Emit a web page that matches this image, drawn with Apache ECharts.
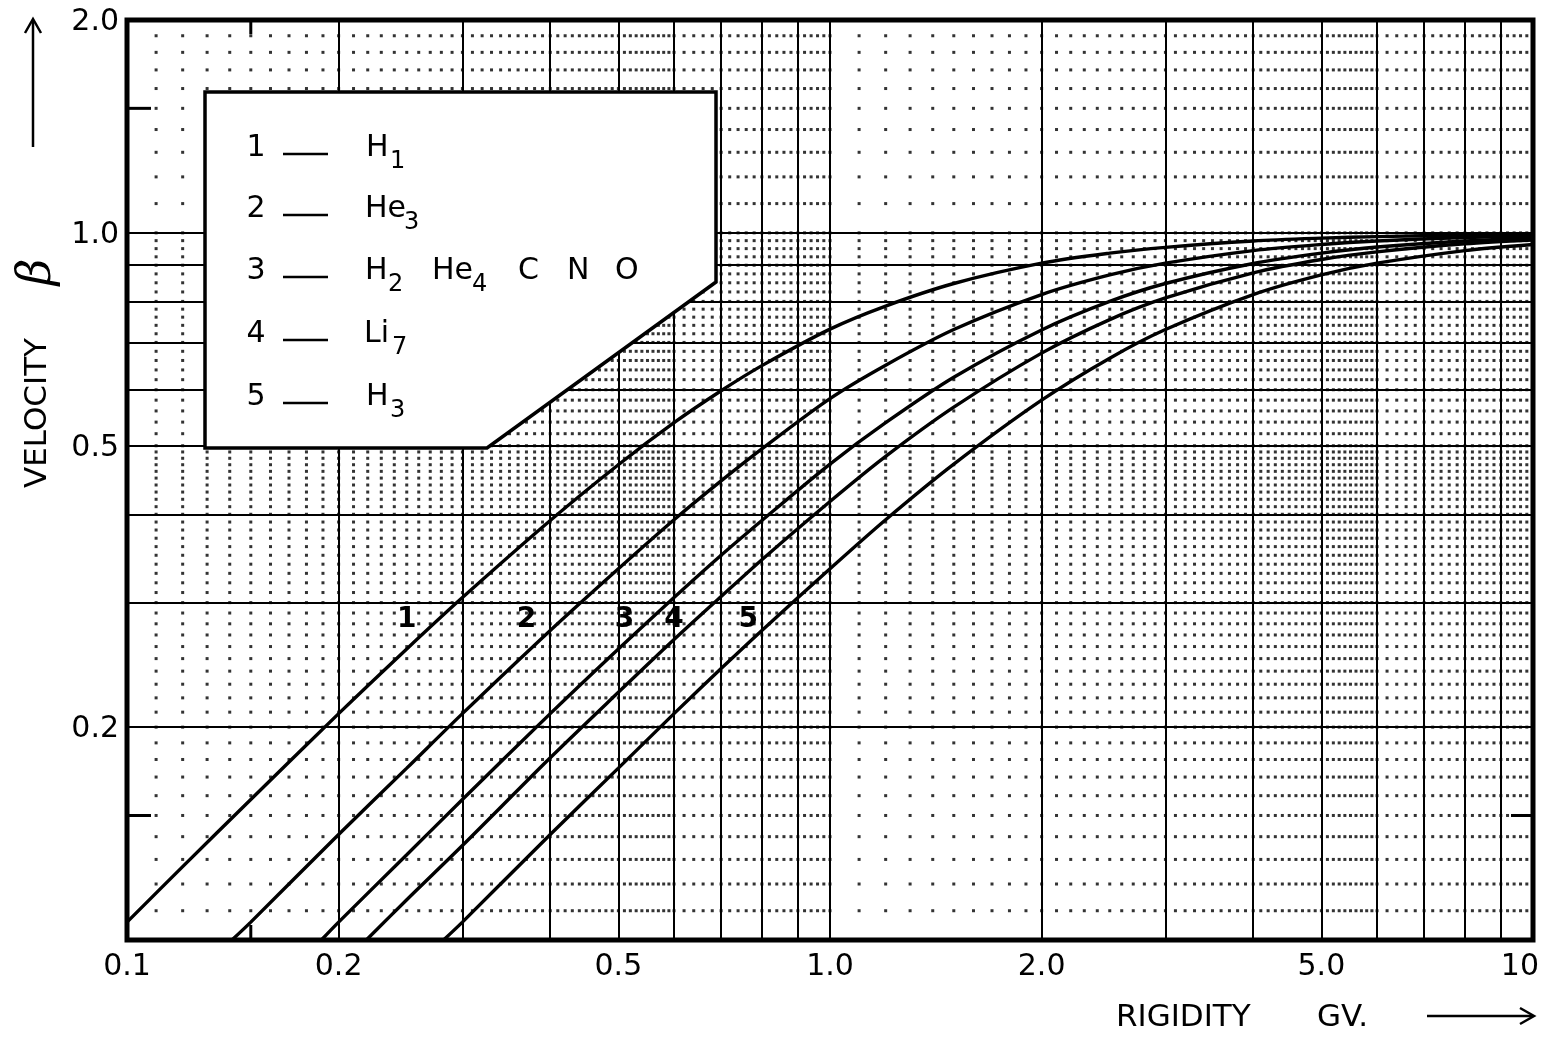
<!DOCTYPE html>
<html>
<head>
<meta charset="utf-8">
<script src="https://cdn.jsdelivr.net/npm/echarts@6/dist/echarts.min.js"></script>
<style>html,body{margin:0;padding:0;background:#fff}#c{width:1548px;height:1037px}</style>
</head>
<body>
<div id="c"></div>
<script>
// ---------- data ----------
// Curve 1: H1
const h1Rigidity = [0.1,0.12,0.15,0.2,0.25,0.3,0.4,0.5,0.6,0.7,0.8,1.0,1.2,1.5,2.0,2.5,3.0,4.0,5.0,6.0,8.0,10];
const h1Beta     = [0.106,0.127,0.158,0.209,0.258,0.305,0.392,0.470,0.539,0.598,0.649,0.731,0.788,0.848,0.906,0.936,0.954,0.974,0.983,0.988,0.993,0.996];
// Curve 2: He3
const he3Rigidity = [0.141,0.15,0.2,0.25,0.3,0.4,0.5,0.6,0.7,0.8,1.0,1.2,1.5,2.0,2.5,3.0,4.0,5.0,6.0,8.0,10];
const he3Beta     = [0.100,0.106,0.141,0.175,0.209,0.274,0.335,0.393,0.446,0.495,0.583,0.650,0.730,0.818,0.872,0.906,0.944,0.963,0.974,0.985,0.990];
// Curve 3: H2 He4 C N O
const h2Rigidity = [0.189,0.2,0.25,0.3,0.4,0.5,0.6,0.7,0.8,1.0,1.2,1.5,2.0,2.5,3.0,4.0,5.0,6.0,8.0,10];
const h2Beta     = [0.100,0.106,0.132,0.158,0.209,0.258,0.305,0.350,0.392,0.471,0.539,0.625,0.729,0.800,0.848,0.905,0.936,0.955,0.974,0.983];
// Curve 4: Li7
const li7Rigidity = [0.219,0.25,0.3,0.4,0.5,0.6,0.7,0.8,1.0,1.2,1.5,2.0,2.5,3.0,4.0,5.0,6.0,8.0,10];
const li7Beta     = [0.100,0.114,0.136,0.181,0.224,0.266,0.306,0.345,0.417,0.483,0.567,0.676,0.754,0.809,0.878,0.917,0.940,0.965,0.977];
// Curve 5: H3
const h3Rigidity = [0.282,0.3,0.4,0.5,0.6,0.7,0.8,1.0,1.2,1.5,2.0,2.5,3.0,4.0,5.0,6.0,8.0,10];
const h3Beta     = [0.100,0.106,0.141,0.175,0.209,0.242,0.274,0.335,0.393,0.471,0.580,0.665,0.730,0.818,0.872,0.906,0.944,0.963];

// curve number labels on the plot
const curveNumbers = ['1','2','3','4','5'];
const curveNumberRigidity = [0.25,0.37,0.51,0.60,0.765];
const curveNumberBeta = [0.284,0.284,0.284,0.284,0.284];

// tick labels
const xTickValues = [0.1,0.2,0.5,1,2,5,10];
const xTickLabels = ['0.1','0.2','0.5','1.0','2.0','5.0','10'];
const yTickValues = [2.0,1.0,0.5,0.2];
const yTickLabels = ['2.0','1.0','0.5','0.2'];
const xMinorTickValues = [0.15];
const yMinorTickValues = [0.15,1.5];

// graph-paper rulings
const gridSolidX = [0.2,0.3,0.4,0.5,0.6,0.7,0.8,0.9,1,2,3,4,5,6,7,8,9];
const gridSolidY = [0.2,0.3,0.4,0.5,0.6,0.7,0.8,0.9,1.0];
const gridDotXSteps = [[0.1,0.6,0.01],[0.6,1,0.02],[1,6,0.1],[6,10,0.2]];
const gridDotYSteps = [[0.1,0.5,0.01],[0.5,0.8,0.02],[0.8,1,0.025],[1,2,0.1]];

// legend
const legendNumbers = ['1','2','3','4','5'];
const legendEntries = [
  [['H','1']],
  [['He','3']],
  [['H','2'],['He','4'],['C',''],['N',''],['O','']],
  [['Li','7']],
  [['H','3']]
];

// ---------- build ----------
function expand(ranges){
  const out=[];
  ranges.forEach(([a,b,s])=>{
    const n=Math.round((b-a)/s);
    for(let i=0;i<=n;i++){const v=+(a+i*s).toFixed(4); if(!out.includes(v)) out.push(v);}
  });
  return out;
}
const dotX = expand(gridDotXSteps).filter(v=>v>0.1&&v<10);
const dotY = expand(gridDotYSteps).filter(v=>v>0.1&&v<2);
const dots=[]; dotX.forEach(x=>dotY.forEach(y=>dots.push([x,y])));
const zip=(a,b)=>a.map((v,i)=>[v,b[i]]);

const FONT='"DejaVu Sans", "Liberation Sans", sans-serif';
const chart = echarts.init(document.getElementById('c'));
const curveSeries = (name, xs, ys) => ({
  type:'line', name, data: zip(xs,ys), smooth:0.3, symbol:'none', z:5, silent:true,
  lineStyle:{color:'#000', width:3.4}
});

chart.setOption({
  animation:false,
  backgroundColor:'#fff',
  grid:{left:127, right:15, top:20, bottom:97, show:true, borderColor:'#000', borderWidth:5, backgroundColor:'#fff'},
  xAxis:{type:'log', logBase:10, min:0.1, max:10, axisLine:{show:false}, axisTick:{show:false}, axisLabel:{show:false}, splitLine:{show:false}},
  yAxis:{type:'log', logBase:10, min:0.1, max:2, axisLine:{show:false}, axisTick:{show:false}, axisLabel:{show:false}, splitLine:{show:false}},
  series:[
    {type:'scatter', data:dots, symbol:'rect', symbolSize:3, large:true, largeThreshold:500, progressive:0, silent:true, z:1,
     itemStyle:{color:'#000'},
     markLine:{silent:true, symbol:['none','none'], label:{show:false}, animation:false,
       lineStyle:{color:'#000', width:2, type:'solid'},
       emphasis:{disabled:true},
       data:[...gridSolidX.map(v=>({xAxis:v})), ...gridSolidY.map(v=>({yAxis:v}))]}},
    curveSeries('H1', h1Rigidity, h1Beta),
    curveSeries('He3', he3Rigidity, he3Beta),
    curveSeries('H2', h2Rigidity, h2Beta),
    curveSeries('Li7', li7Rigidity, li7Beta),
    curveSeries('H3', h3Rigidity, h3Beta)
  ]
});

// ---------- annotations positioned through the axes ----------
const px = (x,y)=>chart.convertToPixel({seriesIndex:0},[x,y]);
const g=[];
const ZL=2;
const txt=(x,y,text,size)=>({type:'text', x, y, z:101, zlevel:ZL, silent:true,
  style:{text, fill:'#000', font:size+'px '+FONT, align:'left', verticalAlign:'middle'}});

// curve numbers
curveNumbers.forEach((t,i)=>{
  const p=px(curveNumberRigidity[i], curveNumberBeta[i]);
  g.push({type:'text', x:p[0], y:p[1], z:101, zlevel:ZL, silent:true,
    style:{text:t, fill:'#000', font:'bold 28px '+FONT, align:'center', verticalAlign:'middle'}});
});

xTickValues.forEach((v,i)=>{
  const p=px(v,0.1);
  const last = i===xTickValues.length-1;
  g.push({type:'text', x:last?p[0]+6:p[0], y:p[1]+27, z:101, zlevel:ZL, silent:true,
    style:{text:xTickLabels[i], fill:'#000', font:'30px '+FONT, align:last?'right':'center', verticalAlign:'middle'}});
});
yTickValues.forEach((v,i)=>{
  const p=px(0.1,v);
  g.push({type:'text', x:p[0]-8, y:p[1]+2, z:101, zlevel:ZL, silent:true,
    style:{text:yTickLabels[i], fill:'#000', font:'30px '+FONT, align:'right', verticalAlign:'middle'}});
});
// short ticks
xMinorTickValues.forEach(v=>{
  const b=px(v,0.1), t=px(v,2);
  g.push({type:'line', z:50, zlevel:ZL, silent:true, shape:{x1:b[0],y1:b[1],x2:b[0],y2:b[1]-15}, style:{stroke:'#000',lineWidth:3}});
  g.push({type:'line', z:50, zlevel:ZL, silent:true, shape:{x1:t[0],y1:t[1],x2:t[0],y2:t[1]+14}, style:{stroke:'#000',lineWidth:3}});
});
yMinorTickValues.forEach(v=>{
  const l=px(0.1,v), r=px(10,v);
  g.push({type:'line', z:50, zlevel:ZL, silent:true, shape:{x1:l[0],y1:l[1],x2:l[0]+24,y2:l[1]}, style:{stroke:'#000',lineWidth:3}});
  if(v<1) g.push({type:'line', z:50, zlevel:ZL, silent:true, shape:{x1:r[0],y1:r[1],x2:r[0]-22,y2:r[1]}, style:{stroke:'#000',lineWidth:3}});
});

// legend box
g.push({type:'polygon', z:100, zlevel:ZL, silent:true, shape:{points:[[205,92],[716,92],[716,282],[487,448],[205,448]]},
  style:{fill:'#ffffff', stroke:'#000', lineWidth:3.5}});
const rowY=[148,209,271,334,397];
const nameX=[[366],[365],[365,432,518,567,615],[364],[366]];
const subX=[[390],[404],[388,472],[392],[390]];
legendNumbers.forEach((n,i)=>{
  g.push({type:'text', x:256, y:rowY[i], z:101, zlevel:ZL, silent:true,
    style:{text:n, fill:'#000', font:'30px '+FONT, align:'center', verticalAlign:'middle'}});
  g.push({type:'line', z:101, zlevel:ZL, silent:true, shape:{x1:283,y1:rowY[i]+6,x2:328,y2:rowY[i]+6}, style:{stroke:'#000',lineWidth:2.5}});
  legendEntries[i].forEach((e,j)=>{
    g.push(txt(nameX[i][j], rowY[i], e[0], 30));
    if(e[1]) g.push(txt(subX[i][j], rowY[i]+14, e[1], 24));
  });
});

// axis titles
g.push({type:'text', x:38, y:413, rotation:Math.PI/2, z:101, zlevel:ZL, silent:true,
  style:{text:'VELOCITY', fill:'#000', font:'31px '+FONT, align:'center', verticalAlign:'middle'}});
g.push({type:'text', x:38, y:272, rotation:Math.PI/2, z:101, zlevel:ZL, silent:true,
  style:{text:'β', fill:'#000', font:'italic 46px "DejaVu Serif", serif', align:'center', verticalAlign:'middle'}});
g.push({type:'line', z:101, zlevel:ZL, silent:true, shape:{x1:33,y1:147,x2:33,y2:20}, style:{stroke:'#000',lineWidth:2.5}});
g.push({type:'polyline', z:101, zlevel:ZL, silent:true, shape:{points:[[25,33],[33,19],[41,33]]}, style:{stroke:'#000',lineWidth:2.5,fill:null}});

g.push({type:'text', x:1116, y:1018, z:101, zlevel:ZL, silent:true,
  style:{text:'RIGIDITY', fill:'#000', font:'31px '+FONT, align:'left', verticalAlign:'middle'}});
g.push({type:'text', x:1317, y:1018, z:101, zlevel:ZL, silent:true,
  style:{text:'GV.', fill:'#000', font:'31px '+FONT, align:'left', verticalAlign:'middle'}});
g.push({type:'line', z:101, zlevel:ZL, silent:true, shape:{x1:1427,y1:1016,x2:1533,y2:1016}, style:{stroke:'#000',lineWidth:2.5}});
g.push({type:'polyline', z:101, zlevel:ZL, silent:true, shape:{points:[[1520,1008],[1534,1016],[1520,1024]]}, style:{stroke:'#000',lineWidth:2.5,fill:null}});

chart.setOption({graphic:{elements:g}});
</script>
</body>
</html>
